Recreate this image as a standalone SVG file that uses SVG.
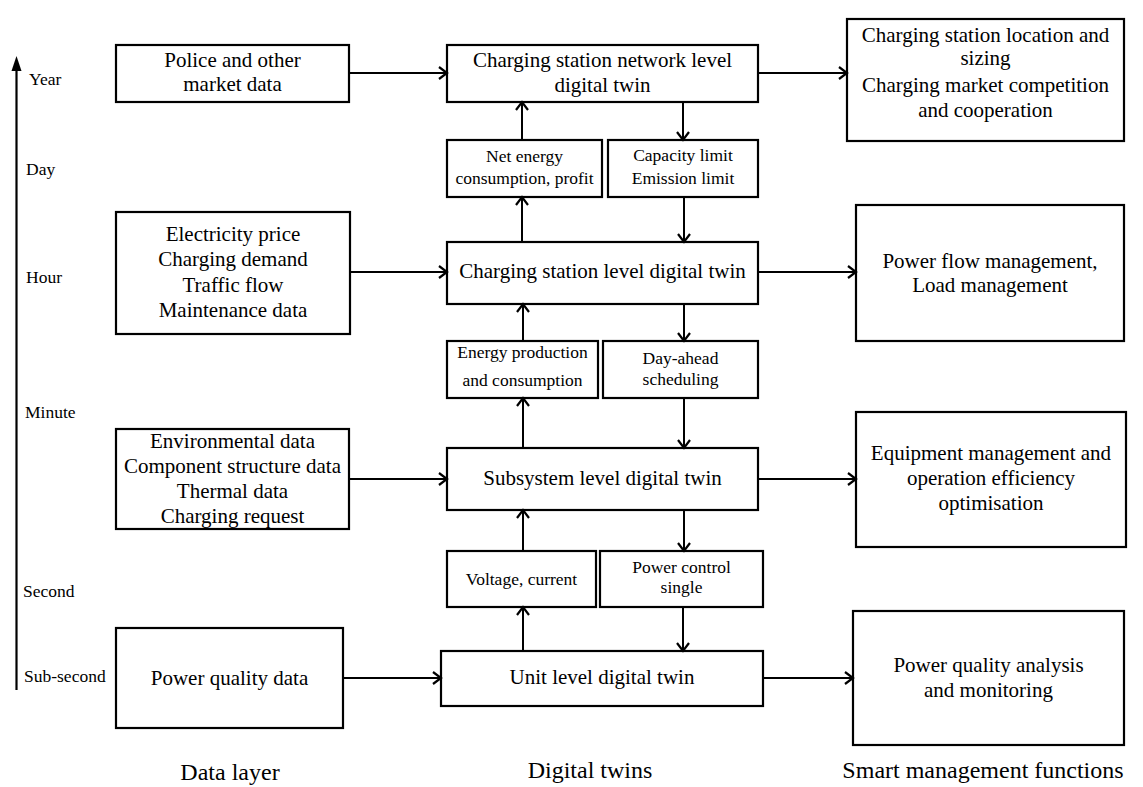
<svg xmlns="http://www.w3.org/2000/svg" width="1143" height="787" viewBox="0 0 1143 787">
  <style>
    .box { fill: #fff; stroke: #000; stroke-width: 2.2; }
    .t { font-family: "Liberation Serif", "Times New Roman", serif; fill: #000; text-anchor: middle; }
    .big { font-size: 21px; }
    .small { font-size: 17.5px; }
    .time { font-family: "Liberation Serif", "Times New Roman", serif; font-size: 17.5px; fill: #000; }
    .title { font-family: "Liberation Serif", "Times New Roman", serif; font-size: 24px; fill: #000; text-anchor: middle; }
    .link { stroke: #000; stroke-width: 2; fill: none; marker-end: url(#chev); }
  </style>
  <defs>
    <marker id="chev" markerUnits="userSpaceOnUse" markerWidth="14" markerHeight="16" refX="10" refY="7" orient="auto">
      <path d="M2,1 L10,7 L2,13" fill="none" stroke="#000" stroke-width="2.2"/>
    </marker>
  </defs>
  <rect width="1143" height="787" fill="#fff"/>

  <!-- time axis -->
  <g id="time-axis">
    <line x1="16.5" y1="68" x2="16.5" y2="690" stroke="#000" stroke-width="2.2"/>
    <polygon points="16.5,56 11.5,71 21.5,71" fill="#000"/>
    <text class="time" x="29" y="85">Year</text>
    <text class="time" x="26" y="175">Day</text>
    <text class="time" x="26" y="283">Hour</text>
    <text class="time" x="25" y="418">Minute</text>
    <text class="time" x="23" y="597">Second</text>
    <text class="time" x="24" y="682">Sub-second</text>
  </g>

  <!-- data layer -->
  <g id="data-policy">
    <rect class="box" x="116" y="45" width="233" height="57"/>
    <text class="t big" x="232.5" y="67">Police and other</text>
    <text class="t big" x="232.5" y="91">market data</text>
  </g>
  <g id="data-station">
    <rect class="box" x="116" y="212" width="234" height="122"/>
    <text class="t big" x="233" y="241">Electricity price</text>
    <text class="t big" x="233" y="266">Charging demand</text>
    <text class="t big" x="233" y="292">Traffic flow</text>
    <text class="t big" x="233" y="317">Maintenance data</text>
  </g>
  <g id="data-subsystem">
    <rect class="box" x="116" y="429" width="233" height="100"/>
    <text class="t big" x="232.5" y="448">Environmental data</text>
    <text class="t big" x="232.5" y="473">Component structure data</text>
    <text class="t big" x="232.5" y="498">Thermal data</text>
    <text class="t big" x="232.5" y="523">Charging request</text>
  </g>
  <g id="data-unit">
    <rect class="box" x="116" y="628" width="227" height="100"/>
    <text class="t big" x="229.5" y="685">Power quality data</text>
  </g>

  <!-- digital twins -->
  <g id="dt-network">
    <rect class="box" x="447" y="45" width="311" height="57"/>
    <text class="t big" x="602.5" y="67">Charging station network level</text>
    <text class="t big" x="602.5" y="92">digital twin</text>
  </g>
  <g id="msg-net-energy">
    <rect class="box" x="447" y="140" width="155" height="57"/>
    <text class="t small" x="524.5" y="162">Net energy</text>
    <text class="t small" x="524.5" y="184">consumption, profit</text>
  </g>
  <g id="msg-capacity">
    <rect class="box" x="608" y="140" width="150" height="57"/>
    <text class="t small" x="683" y="161">Capacity limit</text>
    <text class="t small" x="683" y="184">Emission limit</text>
  </g>
  <g id="dt-station">
    <rect class="box" x="447" y="242" width="311" height="62"/>
    <text class="t big" x="602.5" y="278">Charging station level digital twin</text>
  </g>
  <g id="msg-energy">
    <rect class="box" x="447" y="341" width="151" height="57"/>
    <text class="t small" x="522.5" y="358">Energy production</text>
    <text class="t small" x="522.5" y="386">and consumption</text>
  </g>
  <g id="msg-dayahead">
    <rect class="box" x="603" y="341" width="155" height="57"/>
    <text class="t small" x="680.5" y="364">Day-ahead</text>
    <text class="t small" x="680.5" y="385">scheduling</text>
  </g>
  <g id="dt-subsystem">
    <rect class="box" x="447" y="448" width="311" height="62"/>
    <text class="t big" x="602.5" y="485">Subsystem level digital twin</text>
  </g>
  <g id="msg-voltage">
    <rect class="box" x="447" y="551" width="149" height="56"/>
    <text class="t small" x="521.5" y="585">Voltage, current</text>
  </g>
  <g id="msg-power-control">
    <rect class="box" x="600" y="551" width="163" height="56"/>
    <text class="t small" x="681.5" y="573">Power control</text>
    <text class="t small" x="681.5" y="593">single</text>
  </g>
  <g id="dt-unit">
    <rect class="box" x="441" y="651" width="322" height="55"/>
    <text class="t big" x="602" y="684">Unit level digital twin</text>
  </g>

  <!-- smart management functions -->
  <g id="fn-network">
    <rect class="box" x="847" y="19" width="277" height="122"/>
    <text class="t big" x="985.5" y="42">Charging station location and</text>
    <text class="t big" x="985.5" y="65">sizing</text>
    <text class="t big" x="985.5" y="92">Charging market competition</text>
    <text class="t big" x="985.5" y="117">and cooperation</text>
  </g>
  <g id="fn-station">
    <rect class="box" x="856" y="205" width="268" height="136"/>
    <text class="t big" x="990" y="268">Power flow management,</text>
    <text class="t big" x="990" y="292">Load management</text>
  </g>
  <g id="fn-subsystem">
    <rect class="box" x="856" y="412" width="270" height="135"/>
    <text class="t big" x="991" y="460">Equipment management and</text>
    <text class="t big" x="991" y="485">operation efficiency</text>
    <text class="t big" x="991" y="510">optimisation</text>
  </g>
  <g id="fn-unit">
    <rect class="box" x="853" y="611" width="271" height="134"/>
    <text class="t big" x="988.5" y="672">Power quality analysis</text>
    <text class="t big" x="988.5" y="697">and monitoring</text>
  </g>

  <!-- column titles -->
  <g id="titles">
    <text class="title" x="230" y="780">Data layer</text>
    <text class="title" x="590" y="778">Digital twins</text>
    <text class="title" x="983" y="778">Smart management functions</text>
  </g>

  <!-- connectors -->
  <g id="connectors">
    <line class="link" x1="349" y1="73" x2="447" y2="73"/>
    <line class="link" x1="350" y1="272" x2="447" y2="272"/>
    <line class="link" x1="349" y1="479" x2="447" y2="479"/>
    <line class="link" x1="343" y1="678" x2="441" y2="678"/>

    <line class="link" x1="758" y1="73" x2="847" y2="73"/>
    <line class="link" x1="758" y1="272" x2="856" y2="272"/>
    <line class="link" x1="758" y1="479" x2="856" y2="479"/>
    <line class="link" x1="763" y1="678" x2="853" y2="678"/>

    <line class="link" x1="522" y1="140" x2="522" y2="102"/>
    <line class="link" x1="683" y1="102" x2="683" y2="140"/>
    <line class="link" x1="522" y1="242" x2="522" y2="197"/>
    <line class="link" x1="684" y1="197" x2="684" y2="242"/>

    <line class="link" x1="523" y1="341" x2="523" y2="304"/>
    <line class="link" x1="684" y1="304" x2="684" y2="341"/>
    <line class="link" x1="523" y1="448" x2="523" y2="398"/>
    <line class="link" x1="684" y1="398" x2="684" y2="448"/>

    <line class="link" x1="523" y1="551" x2="523" y2="510"/>
    <line class="link" x1="684" y1="510" x2="684" y2="551"/>
    <line class="link" x1="523" y1="651" x2="523" y2="607"/>
    <line class="link" x1="683" y1="607" x2="683" y2="651"/>
  </g>
</svg>
